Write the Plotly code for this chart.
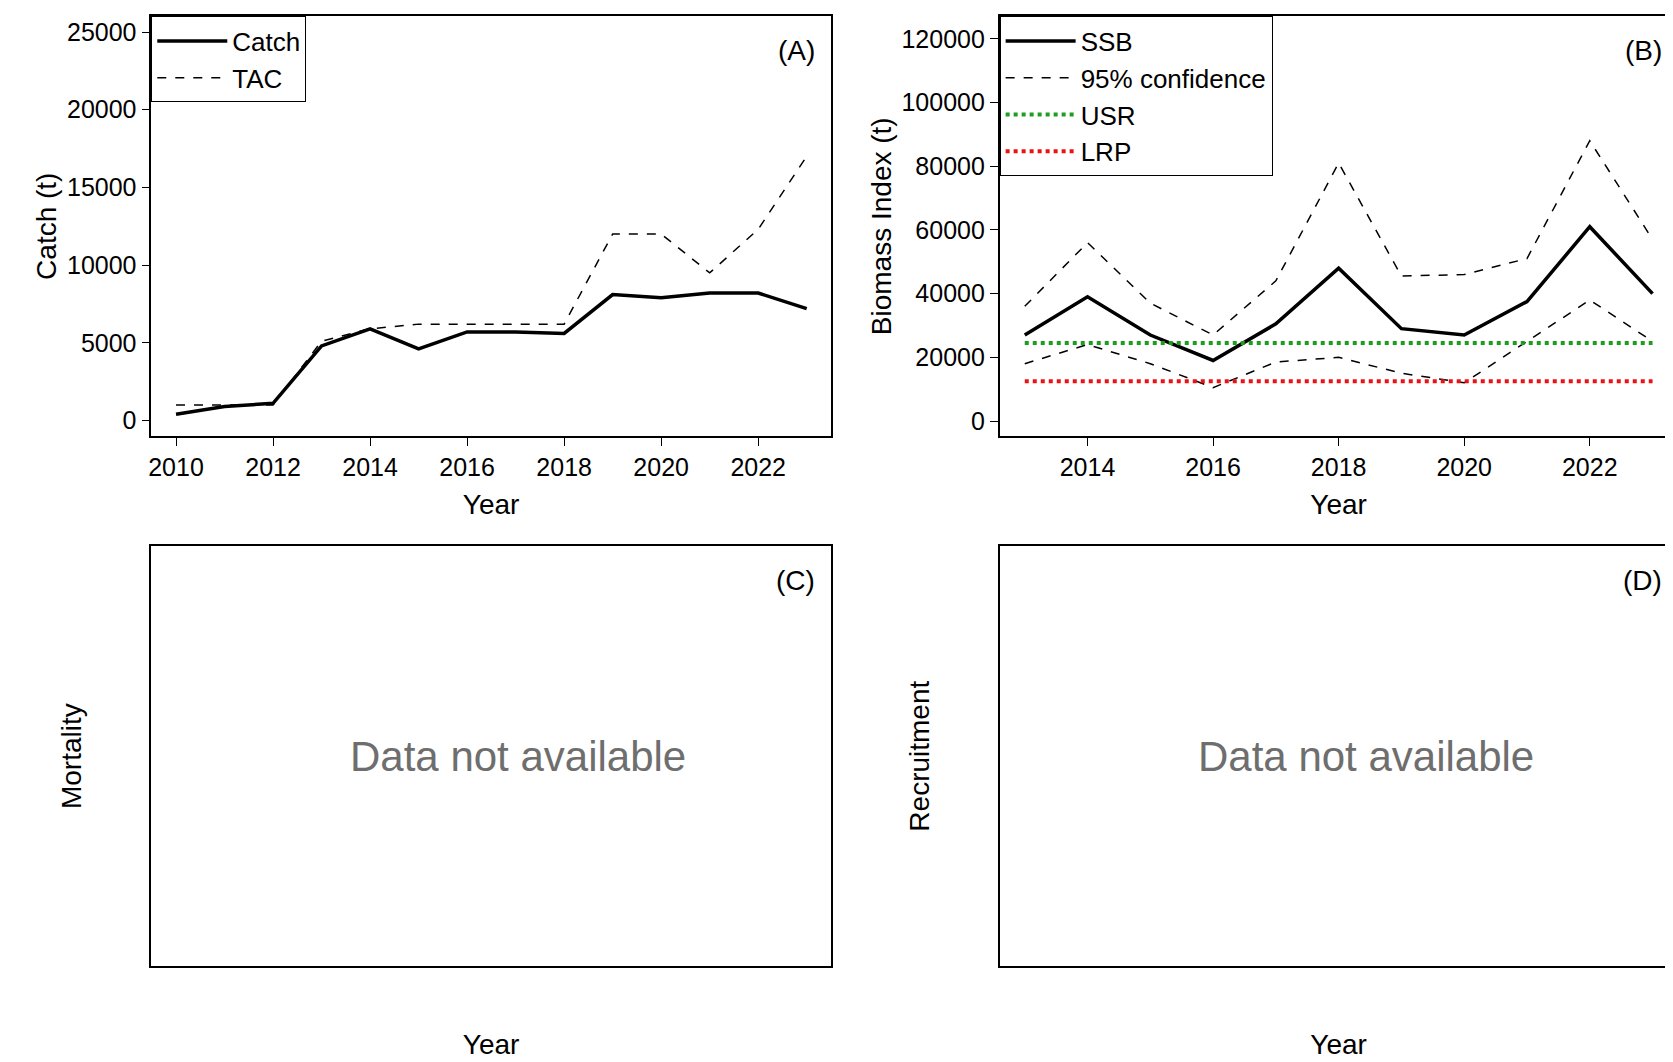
import plotly.graph_objects as go

years_a = list(range(2010, 2024))
catch = [400, 900, 1100, 4800, 5900, 4600, 5700, 5700, 5600, 8100, 7900, 8200, 8200, 7200]
tac = [1000, 1000, 1000, 5100, 5900, 6200, 6200, 6200, 6200, 12000, 12000, 9500, 12300, 17000]

years_b = list(range(2013, 2024))
ssb = [27000, 39000, 27000, 19000, 30500, 48000, 29000, 27000, 37500, 61000, 40000]
upper = [36000, 56000, 37000, 27000, 44000, 81000, 45500, 46000, 51000, 88000, 57000]
lower = [18000, 24000, 18000, 10500, 18500, 20000, 15000, 12000, 25000, 38000, 25000]
usr = [24500] * len(years_b)
lrp = [12500] * len(years_b)

fnt = dict(family="Liberation Sans, Arial", size=25, color="black")
fig = go.Figure()

fig.add_trace(go.Scatter(x=years_a, y=catch, mode="lines", name="Catch",
                         line=dict(color="black", width=3.5), xaxis="x", yaxis="y"))
fig.add_trace(go.Scatter(x=years_a, y=tac, mode="lines", name="TAC",
                         line=dict(color="black", width=1.5, dash="dash"), xaxis="x", yaxis="y"))

fig.add_trace(go.Scatter(x=years_b, y=ssb, mode="lines", name="SSB", legend="legend2",
                         line=dict(color="black", width=3.5), xaxis="x2", yaxis="y2"))
fig.add_trace(go.Scatter(x=years_b, y=upper, mode="lines", name="95% confidence", legend="legend2",
                         line=dict(color="black", width=1.5, dash="dash"), xaxis="x2", yaxis="y2"))
fig.add_trace(go.Scatter(x=years_b, y=lower, mode="lines", showlegend=False,
                         line=dict(color="black", width=1.5, dash="dash"), xaxis="x2", yaxis="y2"))
fig.add_trace(go.Scatter(x=years_b, y=usr, mode="lines", name="USR", legend="legend2",
                         line=dict(color="#1e9e1e", width=4, dash="dot"), xaxis="x2", yaxis="y2"))
fig.add_trace(go.Scatter(x=years_b, y=lrp, mode="lines", name="LRP", legend="legend2",
                         line=dict(color="#ee1111", width=4, dash="dot"), xaxis="x2", yaxis="y2"))

# empty panels
for xa, ya in [("x3", "y3"), ("x4", "y4")]:
    fig.add_trace(go.Scatter(x=[None], y=[None], mode="lines", showlegend=False,
                             hoverinfo="skip", xaxis=xa, yaxis=ya))

ax = dict(showline=True, linecolor="black", linewidth=1.5, mirror=True, ticks="outside",
          ticklen=8, tickcolor="black", showgrid=False, zeroline=False, tickfont=fnt,
          exponentformat="none", separatethousands=False, tickformat="d")
xl, xr = [0.084, 0.491], [0.592, 0.998]
yt, yb = [0.597, 0.992], [0.098, 0.493]
ttl = dict(size=28)

fig.update_layout(
    width=1673, height=1062, plot_bgcolor="white", paper_bgcolor="white",
    margin=dict(l=0, r=0, t=0, b=0), font=fnt,
    xaxis=dict(ax, domain=xl, anchor="y", range=[2009.49, 2023.5], tickvals=list(range(2010, 2024, 2)),
               title=dict(text="Year", font=ttl)),
    yaxis=dict(ax, domain=yt, anchor="x", range=[-1000, 26000], tickvals=list(range(0, 25001, 5000)),
               title=dict(text="Catch (t)", font=ttl, standoff=2)),
    xaxis2=dict(ax, domain=xr, anchor="y2", range=[2012.6, 2023.4], tickvals=list(range(2014, 2024, 2)),
                title=dict(text="Year", font=ttl)),
    yaxis2=dict(ax, domain=yt, anchor="x2", range=[-4700, 127000], tickvals=list(range(0, 120001, 20000)),
                title=dict(text="Biomass Index (t)", font=ttl, standoff=2)),
    xaxis3=dict(ax, domain=xl, anchor="y3", showticklabels=False, ticks="", range=[0, 1],
                title=dict(text="Year", font=ttl, standoff=68)),
    yaxis3=dict(ax, domain=yb, anchor="x3", showticklabels=False, ticks="", range=[0, 1],
                title=dict(text="Mortality", font=ttl, standoff=60)),
    xaxis4=dict(ax, domain=xr, anchor="y4", showticklabels=False, ticks="", range=[0, 1],
                title=dict(text="Year", font=ttl, standoff=68)),
    yaxis4=dict(ax, domain=yb, anchor="x4", showticklabels=False, ticks="", range=[0, 1],
                title=dict(text="Recruitment", font=ttl, standoff=60)),
    legend=dict(x=0.084, y=0.992, xanchor="left", yanchor="top", bordercolor="black", borderwidth=1,
                bgcolor="white", font=dict(size=26), tracegroupgap=0, itemwidth=70),
    legend2=dict(x=0.592, y=0.992, xanchor="left", yanchor="top", bordercolor="black", borderwidth=1,
                 bgcolor="white", font=dict(size=26), tracegroupgap=0, itemwidth=70),
)

for xr_, yr_, lab in [("x", "y", "(A)"), ("x2", "y2", "(B)"), ("x3", "y3", "(C)"), ("x4", "y4", "(D)")]:
    fig.add_annotation(xref=xr_ + " domain", yref=yr_ + " domain", x=0.98, y=0.96, text=lab,
                       showarrow=False, xanchor="right", yanchor="top", font=dict(size=28))
for xr_, yr_ in [("x3", "y3"), ("x4", "y4")]:
    fig.add_annotation(xref=xr_ + " domain", yref=yr_ + " domain", x=0.54, y=0.5, text="Data not available",
                       showarrow=False, font=dict(size=42, color="#6e6e6e"))

fig.write_html("out.html")
